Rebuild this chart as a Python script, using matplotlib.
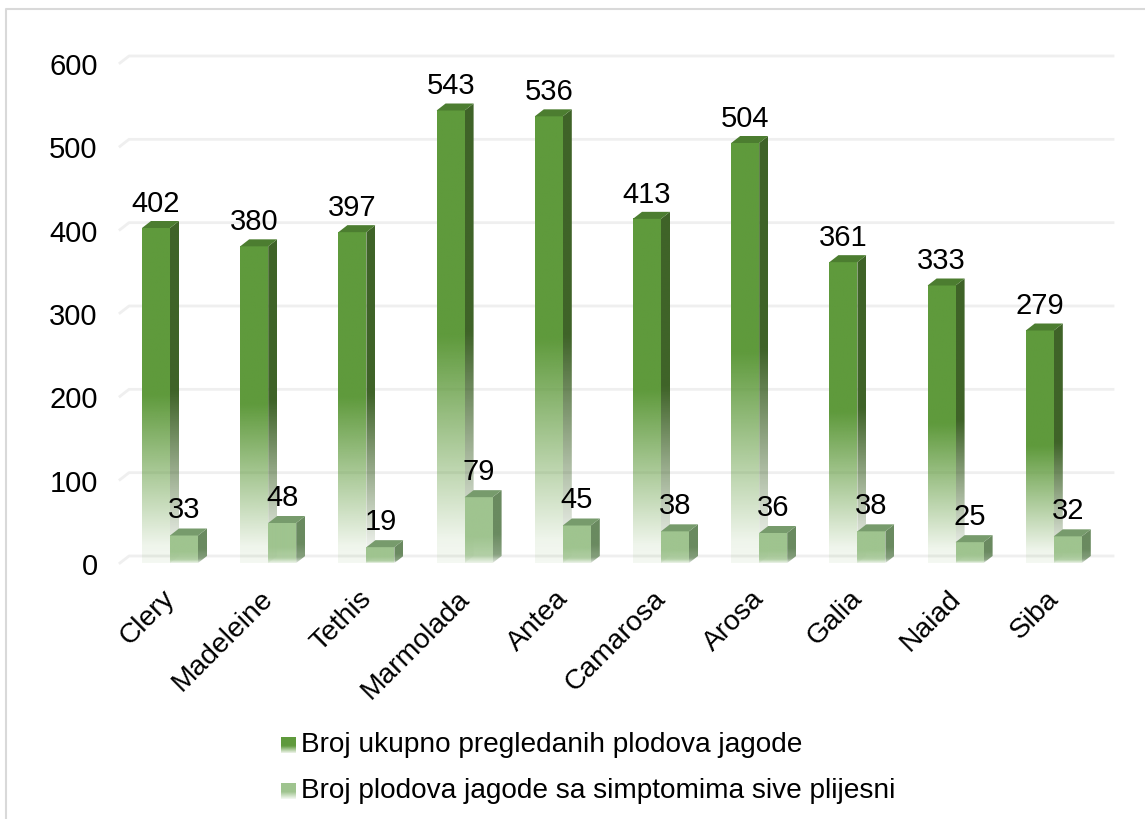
import numpy as np
import matplotlib
matplotlib.use("Agg")
import matplotlib.pyplot as plt
from matplotlib.lines import Line2D
from matplotlib.patches import Polygon
from matplotlib.transforms import ScaledTranslation

plt.rcParams['font.family'] = ['Liberation Sans', 'DejaVu Sans']

sorte = ["Clery", "Madeleine", "Tethis", "Marmolada", "Antea", "Camarosa", "Arosa", "Galia", "Naiad", "Siba"]
ukupno = [402, 380, 397, 543, 536, 413, 504, 361, 333, 279]
simptomi = [33, 48, 19, 79, 45, 38, 36, 38, 25, 32]
y_ticks = [0, 100, 200, 300, 400, 500, 600]
legend_labels = ["Broj ukupno pregledanih plodova jagode", "Broj plodova jagode sa simptomima sive plijesni"]

W, H = 1145, 820
PX_X = 98.2          # pixels per category
PX_Y = 500 / 600     # pixels per value unit
bar_w = 28 / PX_X
dx = 9 / PX_X        # 3d depth
dy = 7 / PX_Y

dark = {"front": "#5f9a3c", "side": "#3f6328", "top": "#4c7d30"}
light = {"front": "#9fc48f", "side": "#6a8a60", "top": "#779b6c"}

# opacity from the top of a bar (0) to its base (1)
dark_fade = ([0, 0.5, 0.95, 1], [1, 1, 0.1, 0.07])
light_fade = ([0, 0.6, 0.88, 1], [1, 1, 0.8, 0.2])


def fade_image(color, fade, n=200):
    rgba = np.zeros((n, 1, 4))
    rgba[:, :, :3] = matplotlib.colors.to_rgb(color)
    rgba[:, 0, 3] = np.interp(np.linspace(0, 1, n), fade[0], fade[1])
    return rgba


def draw_bar(ax, x0, value, cols, fade):
    x1 = x0 + bar_w
    # side face, fades like the front
    side = Polygon([(x1, 0), (x1 + dx, dy), (x1 + dx, value + dy), (x1, value)], closed=True,
                   transform=ax.transData, fc="none", ec="none")
    ax.add_patch(side)
    im = ax.imshow(fade_image(cols["side"], fade), extent=(x1, x1 + dx, 0, value + dy), aspect="auto", zorder=3, interpolation="bilinear")
    im.set_clip_path(side)
    # front face
    im = ax.imshow(fade_image(cols["front"], fade), extent=(x0, x1, 0, value), aspect="auto", zorder=4, interpolation="bilinear")
    im.set_clip_on(False)
    # top face
    ax.add_patch(Polygon([(x0, value), (x0 + dx, value + dy), (x1 + dx, value + dy), (x1, value)],
                         closed=True, fc=cols["top"], ec="none", zorder=4, clip_on=False))


fig = plt.figure(figsize=(W / 100, H / 100), dpi=100)

# frame of the chart, only left and top show
fig.add_artist(Line2D([6 / W, 6 / W, 1], [0, 1 - 10 / H, 1 - 10 / H], transform=fig.transFigure,
                      color="#d9d9d9", lw=1.5, zorder=-1))

ax = fig.add_axes([120 / W, 1 - 564 / H, 980 / W, 500 / H])
ax.patch.set_alpha(0)
x = np.arange(len(sorte))

# gridlines sit on the back wall, with a short diagonal on the floor side
for t in y_ticks:
    ax.plot([-50 / PX_X, -41 / PX_X, 943 / PX_X], [t, t + dy, t + dy], color="#efefef", lw=2, zorder=1, clip_on=False)

for i in x:
    draw_bar(ax, i - bar_w, ukupno[i], dark, dark_fade)
    draw_bar(ax, i, simptomi[i], light, light_fade)
    ax.annotate(str(ukupno[i]), (i - bar_w / 2, ukupno[i]), xytext=(0, 25), textcoords="offset pixels",
                ha="center", va="center", fontsize=21, zorder=6)
    ax.annotate(str(simptomi[i]), (i + bar_w / 2, simptomi[i]), xytext=(0, 26), textcoords="offset pixels",
                ha="center", va="center", fontsize=21, zorder=6)

ax.set_xlim(-50 / PX_X, 930 / PX_X)
ax.set_ylim(0, 600)
ax.set_yticks(y_ticks)
ax.set_xticks(x)
ax.set_xticklabels(sorte, rotation=45, ha="right", rotation_mode="anchor")
ax.tick_params(axis="both", length=0)
ax.tick_params(axis="x", pad=14, labelsize=20.3)
ax.tick_params(axis="y", pad=16, labelsize=21)
for lab in ax.get_xticklabels():
    lab.set_transform(lab.get_transform() + ScaledTranslation(-8 / 100, -2 / 100, fig.dpi_scale_trans))
for s in ax.spines.values():
    s.set_visible(False)

# legend drawn by hand, the keys carry the same fade as the bars
for k, (label, cols) in enumerate(zip(legend_labels, (dark, light))):
    yc = 745 + k * 46
    key = fig.add_axes([281 / W, 1 - (yc + 9) / H, 15 / W, 16 / H])
    key.imshow(fade_image(cols["front"], ([0, 0.55, 1], [1, 1, 0.1])), aspect="auto", interpolation="bilinear")
    key.axis("off")
    fig.text(301 / W, 1 - yc / H, label, fontsize=20.15, ha="left", va="center")

fig.savefig("out.png", dpi=100)
